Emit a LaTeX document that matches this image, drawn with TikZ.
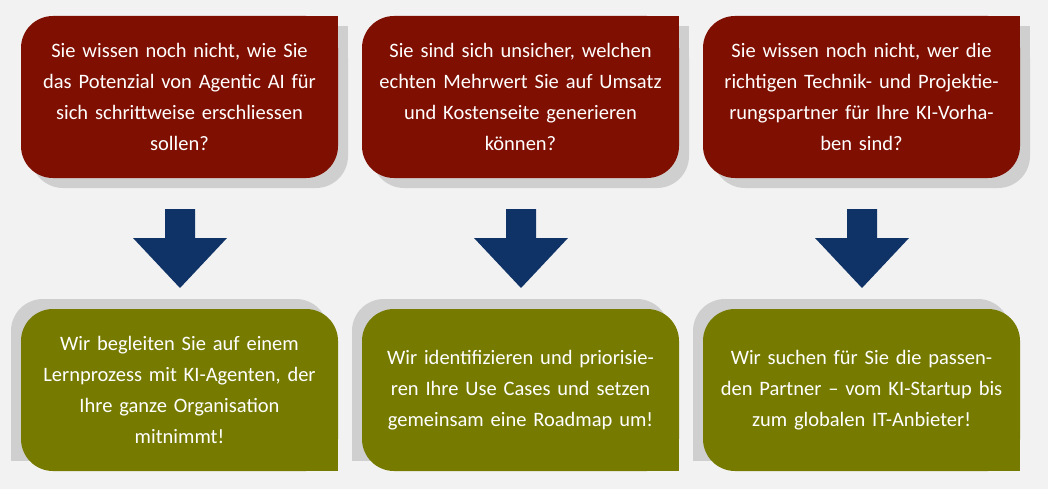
\documentclass[tikz,border=0pt]{standalone}
\usepackage{fontspec}
\setmainfont{Carlito}
\usetikzlibrary{calc}
\definecolor{bg}{HTML}{F2F2F2}
\definecolor{qred}{HTML}{7F0F00}
\definecolor{aolive}{HTML}{767B00}
\definecolor{navy}{HTML}{0F3366}
\definecolor{shad}{HTML}{CFCFCF}
\tikzset{
 box/.style={minimum width=317pt,minimum height=162pt,rounded corners=32pt,text=white,
   text width=300pt,align=center,inner sep=0pt,font=\fontsize{20.5}{31}\selectfont},
 qbox/.style={box,fill=qred},
 abox/.style={box,fill=aolive},
}
\begin{document}
\begin{tikzpicture}[x=1pt,y=-1pt]
\fill[bg] (0,0) rectangle (1048,489);
\useasboundingbox (0,0) rectangle (1048,489);
\foreach \i/\dx in {1/0,2/341,3/682}{
 \fill[shad,rounded corners=32pt] (31+\dx,26) rectangle (348+\dx,188);
 \fill[shad] (300+\dx,26) rectangle (348+\dx,60);
 \fill[shad,rounded corners=32pt] (11+\dx,299) rectangle (328+\dx,461);
 \fill[shad] (11+\dx,420) rectangle (50+\dx,461);
 \fill[navy] (165+\dx,209) -- (195+\dx,209) -- (195+\dx,238) -- (227+\dx,238) -- (180+\dx,288)
   -- (133+\dx,238) -- (165+\dx,238) -- cycle;
}
\node[qbox] (q1) at (179.5,97) {};
\node[qbox] (q2) at (520.5,97) {};
\node[qbox] (q3) at (861.5,97) {};
\node[abox] (a1) at (179.5,390) {};
\node[abox] (a2) at (520.5,390) {};
\node[abox] (a3) at (861.5,390) {};
\foreach \n in {q1,q2,q3}{\fill[qred] ($(\n.north east)+(-40,0)$) rectangle ($(\n.north east)+(0,40)$);}
\foreach \n in {a1,a2,a3}{\fill[aolive] ($(\n.south east)+(-40,0)$) rectangle ($(\n.south east)+(0,-40)$);}
\node[box,fill=none] at (q1) {Sie wissen noch nicht, wie Sie\\das Potenzial von Agentic AI für\\sich schrittweise erschliessen\\sollen?};
\node[box,fill=none] at (q2) {Sie sind sich unsicher, welchen\\echten Mehrwert Sie auf Umsatz\\und Kostenseite generieren\\können?};
\node[box,fill=none] at (q3) {Sie wissen noch nicht, wer die\\richtigen Technik- und Projektie-\\rungspartner für Ihre KI-Vorha-\\ben sind?};
\node[box,fill=none] at (a1) {Wir begleiten Sie auf einem\\Lernprozess mit KI-Agenten, der\\Ihre ganze Organisation\\mitnimmt!};
\node[box,fill=none] at (a2) {Wir identifizieren und priorisie-\\ren Ihre Use Cases und setzen\\gemeinsam eine Roadmap um!};
\node[box,fill=none] at (a3) {Wir suchen für Sie die passen-\\den Partner – vom KI-Startup bis\\zum globalen IT-Anbieter!};
\end{tikzpicture}
\end{document}
